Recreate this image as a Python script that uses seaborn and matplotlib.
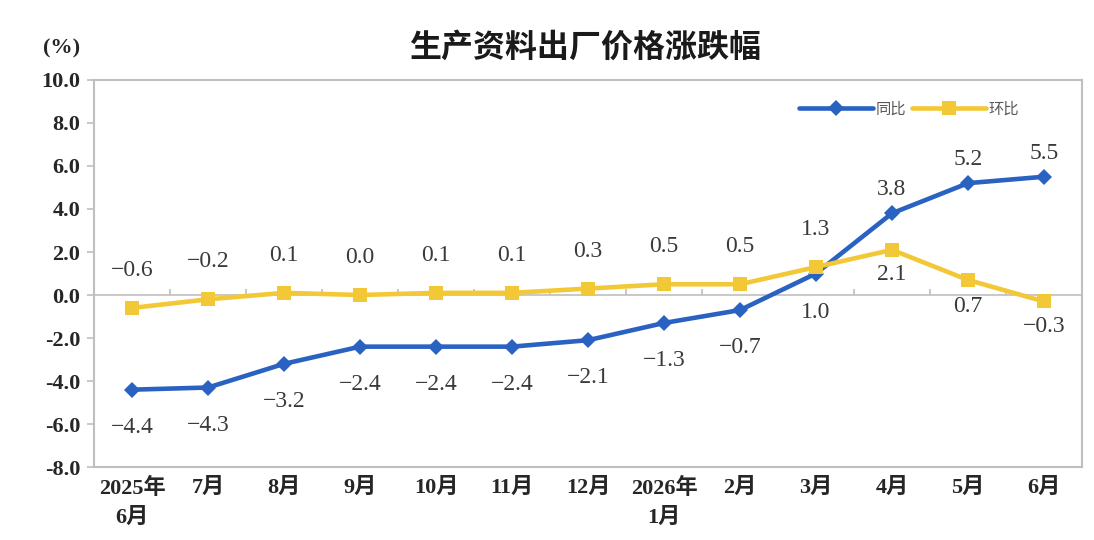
import numpy as np
import pandas as pd
import seaborn as sns
import matplotlib.pyplot as plt

# 数据
months = ["2025年\n6月", "7月", "8月", "9月", "10月", "11月", "12月",
          "2026年\n1月", "2月", "3月", "4月", "5月", "6月"]
yoy = [-4.4, -4.3, -3.2, -2.4, -2.4, -2.4, -2.1, -1.3, -0.7, 1.0, 3.8, 5.2, 5.5]
mom = [-0.6, -0.2, 0.1, 0.0, 0.1, 0.1, 0.3, 0.5, 0.5, 1.3, 2.1, 0.7, -0.3]

# 标注偏移 (points)
yoy_off = [-27] * 9 + [-28, 17, 17, 17]
mom_off = [27] * 10 + [-18, -19, -18]

sns.set_theme(style="white")
plt.rcParams['font.family'] = ['Liberation Serif', 'Noto Sans CJK SC']
plt.rcParams['axes.unicode_minus'] = False

blue = "#2A62C2"
yellow = "#F3C836"
gray = "#BFBFBF"

df = pd.DataFrame({"x": np.arange(len(months)), "同比": yoy, "环比": mom})

fig = plt.figure(figsize=(10.94, 5.40), dpi=100)
ax = fig.add_axes([0.086, 0.135, 0.903, 0.717])

sns.lineplot(data=df, x="x", y="同比", ax=ax, color=blue, lw=3.3,
             marker="D", markersize=8, markeredgewidth=0, label="同比", zorder=3)
sns.lineplot(data=df, x="x", y="环比", ax=ax, color=yellow, lw=3.3,
             marker="s", markersize=10, markeredgewidth=0, label="环比", zorder=4)

for i, (v, o) in enumerate(zip(yoy, yoy_off)):
    ax.annotate(f"{v:.1f}".replace("-", "−"), (i, v), xytext=(0, o),
                textcoords="offset points", ha="center", va="center",
                fontsize=17, color="#3a3a3a", family="Liberation Serif")
for i, (v, o) in enumerate(zip(mom, mom_off)):
    ax.annotate(f"{v:.1f}".replace("-", "−"), (i, v), xytext=(0, o),
                textcoords="offset points", ha="center", va="center",
                fontsize=17, color="#3a3a3a", family="Liberation Serif")

# 零轴线与刻度
ax.axhline(0, color=gray, lw=1.2, zorder=1)
ax.vlines(np.arange(0.5, len(months) - 1), 0, 0.3, color=gray, lw=1.2, zorder=1)

ax.set_xlim(-0.5, len(months) - 0.5)
ax.set_ylim(-8, 10)
ax.set_yticks(np.arange(-8, 10.1, 2))
ax.set_yticklabels([f"{t:.1f}" for t in np.arange(-8, 10.1, 2)])
ax.set_xticks(df["x"])
ax.set_xticklabels(months)
ax.set_xlabel("")
ax.set_ylabel("")

for lab in ax.get_yticklabels() + ax.get_xticklabels():
    lab.set_fontweight("bold")
    lab.set_fontsize(16)
    lab.set_color("#262626")
for lab in ax.get_xticklabels():
    lab.set_linespacing(1.55)

ax.tick_params(axis="y", direction="out", length=5, width=1.2, color=gray, pad=5, left=True)
ax.tick_params(axis="x", length=0, pad=8)
for s in ax.spines.values():
    s.set_color(gray)
    s.set_linewidth(1.5)

ax.legend(loc="center left", bbox_to_anchor=(0.7, 0.925), ncol=2, frameon=False,
          handlelength=4.8, columnspacing=0.4, handletextpad=0.2,
          prop={"family": "Noto Sans CJK SC", "size": 11}, labelcolor="#595959")

fig.text(0.056, 0.911, "(%)", fontsize=16, fontweight="bold", color="#262626",
         ha="center", va="center")
fig.text(0.535, 0.911, "生产资料出厂价格涨跌幅", fontsize=23, fontweight="bold",
         family="Noto Sans CJK SC", color="#1a1a1a", ha="center", va="center")

plt.savefig("out.png", dpi=100)
